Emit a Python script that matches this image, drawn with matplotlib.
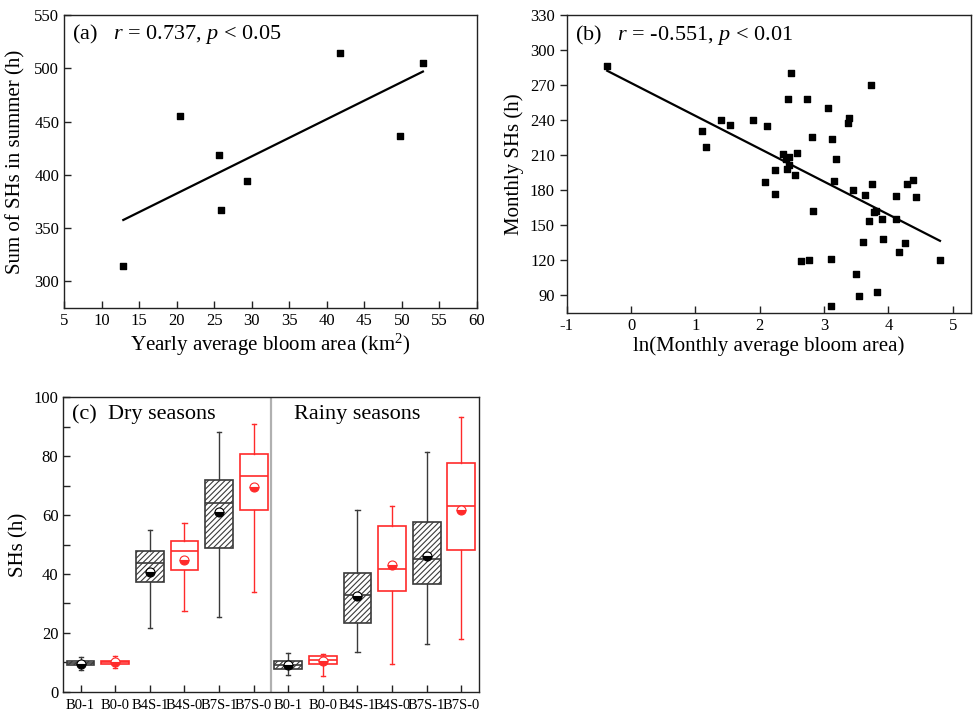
import numpy as np
import matplotlib
matplotlib.use("Agg")
import matplotlib.pyplot as plt

plt.rcParams['font.family'] = ['Liberation Serif', 'DejaVu Serif']
plt.rcParams['mathtext.fontset'] = 'custom'
plt.rcParams['mathtext.rm'] = 'Liberation Serif'
plt.rcParams['mathtext.it'] = 'Liberation Serif:italic'
plt.rcParams['hatch.linewidth'] = 0.8
plt.rcParams['axes.unicode_minus'] = False

# ---------------- data (a) ----------------
a_x = [12.9, 20.5, 25.7, 25.9, 29.4, 41.7, 49.8, 52.8]
a_y = [314, 455, 419, 367, 394, 514, 436, 505]

# ---------------- data (b) ----------------
b_x = [-0.37, 2.48, 3.73, 2.44, 2.74, 3.06, 3.38, 3.37, 1.40, 1.53, 1.90, 2.12,
       1.10, 1.17, 2.81, 3.12, 3.18, 2.36, 2.46, 2.58, 2.40, 2.45, 2.23, 2.42,
       2.55, 2.08, 2.24, 3.15, 3.45, 3.64, 3.74, 4.12, 4.28, 4.38, 4.43, 2.82,
       3.78, 3.80, 3.69, 3.90, 4.11, 3.61, 3.92, 4.26, 4.16, 2.64, 2.77, 3.11,
       4.80, 3.49, 3.54, 3.82, 3.10]
b_y = [287, 281, 270, 258, 258, 251, 242, 238, 240, 236, 240, 235,
       231, 217, 226, 224, 207, 211, 209, 212, 207, 202, 197, 198,
       193, 187, 177, 188, 180, 176, 185, 175, 185, 189, 174, 162,
       161, 162, 154, 155, 155, 136, 138, 135, 127, 119, 120, 121,
       120, 108, 89, 93, 81]

# ---------------- data (c) ----------------
c_labels = ['B0-1', 'B0-0', 'B4S-1', 'B4S-0', 'B7S-1', 'B7S-0',
            'B0-1', 'B0-0', 'B4S-1', 'B4S-0', 'B7S-1', 'B7S-0']
c_whislo = [7.5, 8.2, 21.8, 27.4, 25.3, 33.8, 5.7, 5.3, 13.6, 9.3, 16.2, 17.8]
c_q1     = [9.0, 9.4, 37.1, 41.3, 48.8, 61.6, 7.7, 9.3, 23.4, 34.2, 36.5, 48.2]
c_med    = [9.6, 10.1, 43.6, 47.7, 64.1, 73.3, 9.0, 10.8, 32.8, 41.7, 45.0, 63.0]
c_q3     = [10.4, 10.6, 47.7, 51.2, 71.9, 80.6, 10.5, 12.1, 40.4, 56.4, 57.6, 77.7]
c_whishi = [11.7, 12.0, 54.9, 57.3, 88.3, 90.8, 13.0, 12.8, 61.6, 63.1, 81.5, 93.3]
c_mean   = [9.5, 10.0, 40.8, 44.8, 61.0, 69.6, 9.1, 10.4, 32.6, 43.0, 46.2, 61.6]

fig = plt.figure(figsize=(9.74, 7.12), dpi=100)

LBL = 15
TCK = 12
spine_c = '#222222'

def style(ax, xin=True, yin=True):
    for s in ax.spines.values():
        s.set_color(spine_c)
        s.set_linewidth(1.0)
    ax.tick_params(axis='x', direction='in' if xin else 'out', length=5,
                   width=1, labelsize=TCK, colors=spine_c, top=False)
    ax.tick_params(axis='y', direction='in' if yin else 'out', length=5,
                   width=1, labelsize=TCK, colors=spine_c, right=False)
    for lab in ax.get_xticklabels() + ax.get_yticklabels():
        lab.set_color('black')

# ---------- (a) ----------
axa = fig.add_axes([0.0657, 0.5674, 0.4240, 0.4115])
axa.scatter(a_x, a_y, marker='s', s=22, color='black', zorder=3)
ka, ba = np.polyfit(a_x, a_y, 1)
xa = np.array([min(a_x), max(a_x)])
axa.plot(xa, ka * xa + ba, color='black', lw=1.6)
axa.set_xlim(5, 60)
axa.set_ylim(275, 550)
axa.set_xticks(np.arange(5, 61, 5))
axa.set_yticks(np.arange(300, 551, 50))
style(axa)
axa.set_xlabel('Yearly average bloom area (km$^2$)', fontsize=LBL, labelpad=2)
axa.set_ylabel('Sum of SHs in summer (h)', fontsize=LBL, labelpad=6)
axa.text(0.02, 0.975, '(a)   $r$ = 0.737, $p$ < 0.05', transform=axa.transAxes,
         fontsize=16, va='top', ha='left')

# ---------- (b) ----------
axb = fig.add_axes([0.5818, 0.5608, 0.4150, 0.4175])
axb.scatter(b_x, b_y, marker='s', s=22, color='black', zorder=3)
kb, bb = np.polyfit(b_x, b_y, 1)
xb = np.array([min(b_x), max(b_x)])
axb.plot(xb, kb * xb + bb, color='black', lw=1.6)
axb.set_xlim(-1, 5.28)
axb.set_ylim(75, 330)
axb.set_xticks(np.arange(-1, 6, 1))
axb.set_yticks(np.arange(90, 331, 30))
style(axb, xin=True, yin=False)
axb.set_xlabel('ln(Monthly average bloom area)', fontsize=LBL, labelpad=2)
axb.set_ylabel('Monthly SHs (h)', fontsize=LBL, labelpad=4)
axb.text(0.02, 0.975, '(b)   $r$ = -0.551, $p$ < 0.01', transform=axb.transAxes,
         fontsize=16, va='top', ha='left')

# ---------- (c) ----------
axc = fig.add_axes([0.0650, 0.0285, 0.4264, 0.4135])
stats = []
for i in range(len(c_labels)):
    stats.append(dict(label=c_labels[i], whislo=c_whislo[i], q1=c_q1[i],
                      med=c_med[i], q3=c_q3[i], whishi=c_whishi[i],
                      mean=c_mean[i], fliers=[]))
pos = np.arange(1, len(c_labels) + 1)
blk_idx = [i for i in range(len(c_labels)) if c_labels[i].endswith('-1')]
red_idx = [i for i in range(len(c_labels)) if c_labels[i].endswith('-0')]

gray = '#3a3a3a'
red = '#ff2a2a'
axc.bxp([stats[i] for i in blk_idx], positions=pos[blk_idx], widths=0.8,
        patch_artist=True, showmeans=True, showfliers=False,
        boxprops=dict(facecolor='white', edgecolor=gray, linewidth=1.2, hatch='//////'),
        medianprops=dict(color=gray, linewidth=1.2),
        whiskerprops=dict(color=gray, linewidth=1.0),
        capprops=dict(color=gray, linewidth=1.0), capwidths=0.12,
        meanprops=dict(marker='o', markersize=6.5, markerfacecolor='black',
                       markerfacecoloralt='white', fillstyle='bottom',
                       markeredgecolor='black', markeredgewidth=0.8))
axc.bxp([stats[i] for i in red_idx], positions=pos[red_idx], widths=0.8,
        patch_artist=True, showmeans=True, showfliers=False,
        boxprops=dict(facecolor='white', edgecolor=red, linewidth=1.2),
        medianprops=dict(color=red, linewidth=1.2),
        whiskerprops=dict(color=red, linewidth=1.0),
        capprops=dict(color=red, linewidth=1.0), capwidths=0.12,
        meanprops=dict(marker='o', markersize=6.5, markerfacecolor=red,
                       markerfacecoloralt='white', fillstyle='bottom',
                       markeredgecolor=red, markeredgewidth=0.8))
axc.axvline(6.5, color='#b0b0b0', lw=1.6)
axc.set_xlim(0.5, 12.5)
axc.set_ylim(0, 100)
axc.set_xticks(pos)
axc.set_xticklabels(c_labels)
axc.set_yticks(np.arange(0, 101, 20))
axc.set_yticks(np.arange(10, 100, 20), minor=True)
style(axc)
axc.tick_params(axis='x', labelsize=10.5, pad=5)
axc.tick_params(axis='y', which='minor', direction='in', length=5, width=1,
                colors=spine_c, right=False)
axc.set_ylabel('SHs (h)', fontsize=LBL, labelpad=4)
axc.text(0.02, 0.975, '(c)  Dry seasons', transform=axc.transAxes,
         fontsize=16, va='top', ha='left')
axc.text(0.555, 0.975, 'Rainy seasons', transform=axc.transAxes,
         fontsize=16, va='top', ha='left')

fig.savefig('out.png', dpi=100)
